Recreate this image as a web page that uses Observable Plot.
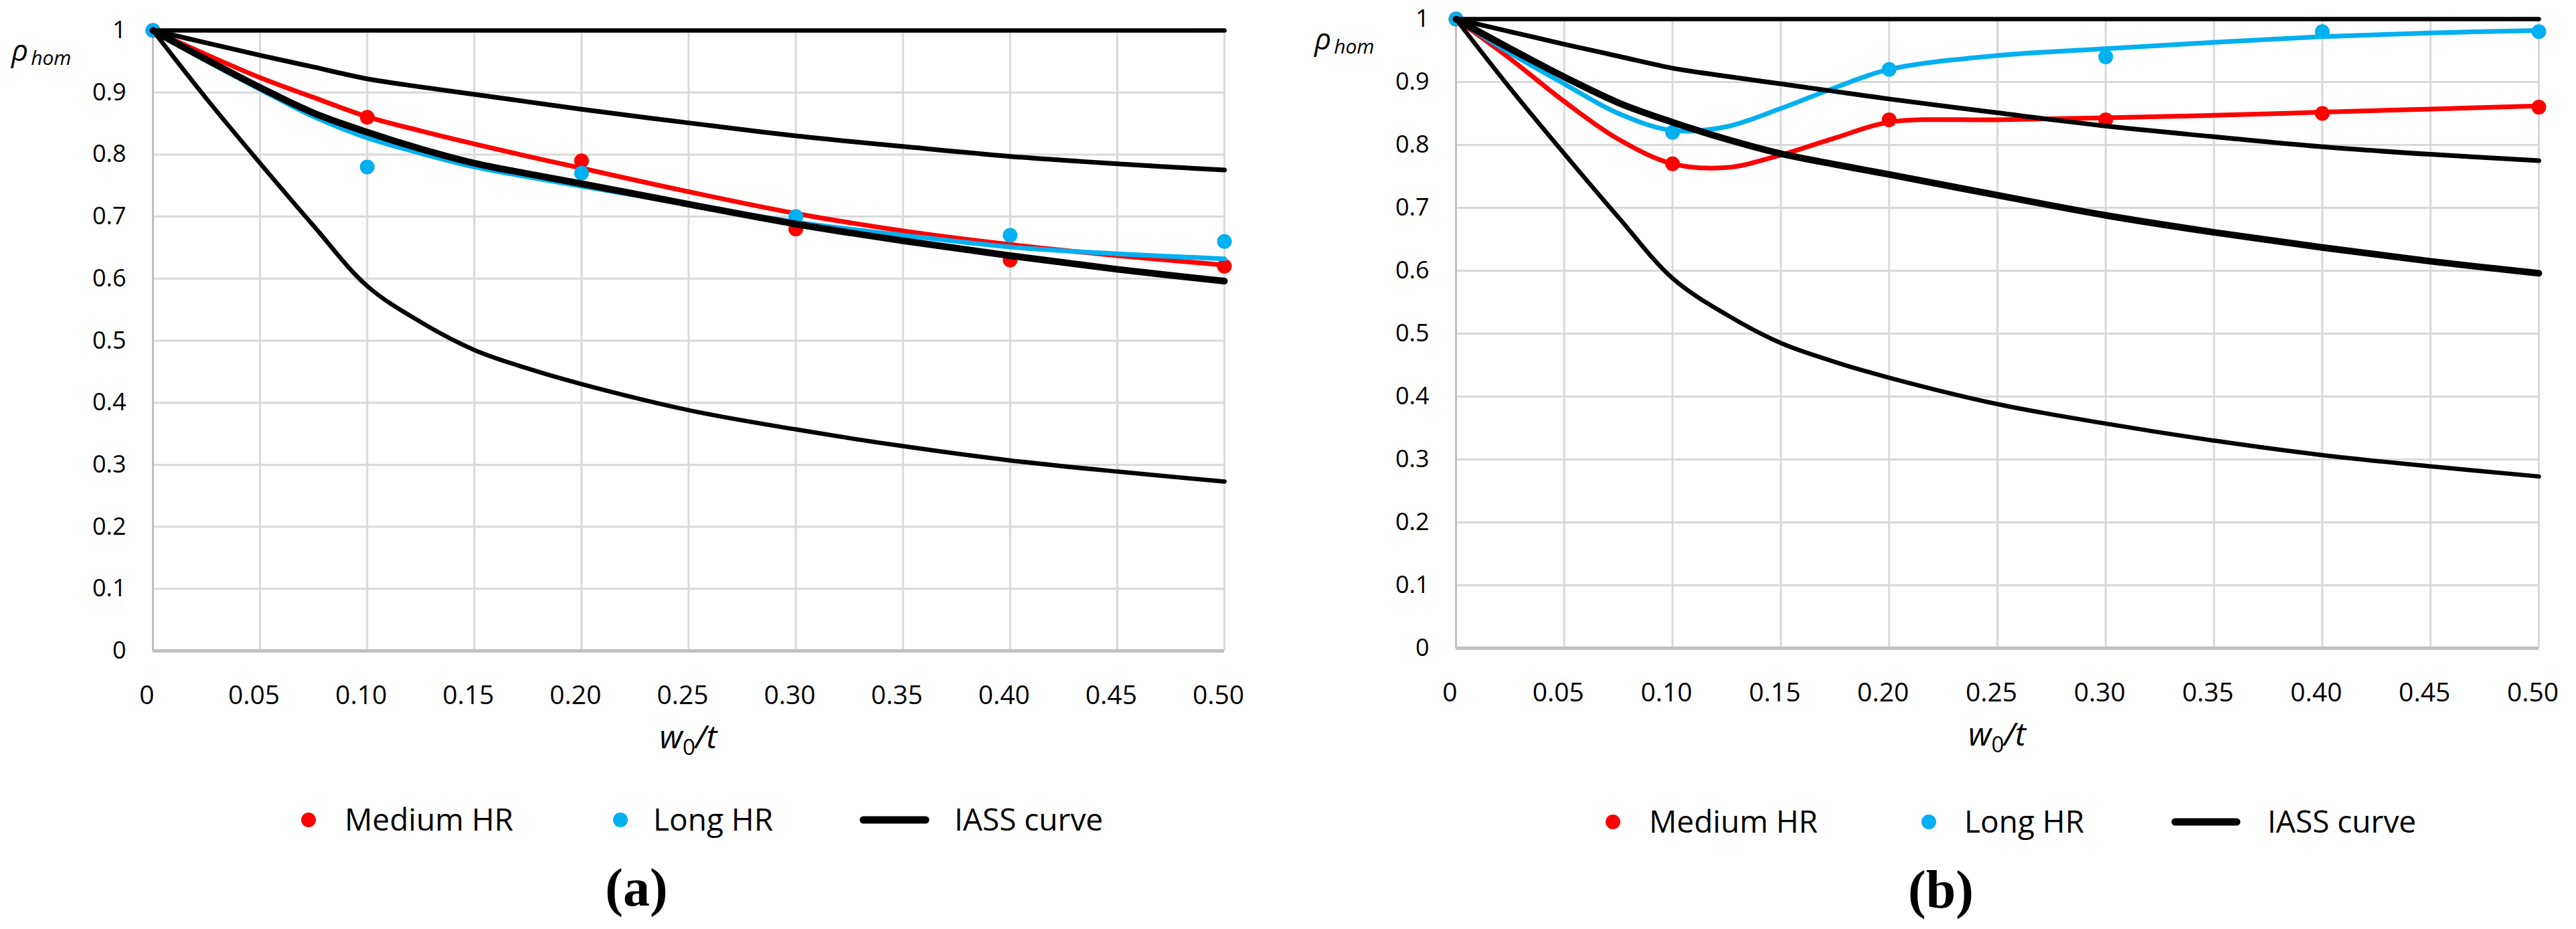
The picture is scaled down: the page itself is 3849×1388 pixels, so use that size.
<!DOCTYPE html>
<html><head><meta charset="utf-8">
<script src="https://cdn.jsdelivr.net/npm/d3@7"></script>
<script src="https://cdn.jsdelivr.net/npm/@observablehq/plot@0.6"></script>
<style>
html,body{margin:0;padding:0;background:#fff;}
#root{position:relative;width:3849px;height:1388px;overflow:hidden;background:#fff;}
#root svg{position:absolute;top:0;}
</style></head><body><div id="root"></div>
<script>
// ---- tick values ----
const xTicks = [0, 0.05, 0.1, 0.15, 0.2, 0.25, 0.3, 0.35, 0.4, 0.45, 0.5];
const yTicks = [0, 0.1, 0.2, 0.3, 0.4, 0.5, 0.6, 0.7, 0.8, 0.9, 1];

// ---- IASS reference curves (same in both panels) ----
const curveX      = [0, 0.025, 0.05, 0.075, 0.1, 0.125, 0.15, 0.175, 0.2, 0.25, 0.3, 0.35, 0.4, 0.45, 0.5];
const iassFlatX   = [0, 0.5];
const iassFlat    = [1, 1];
const iassUpper   = [1, 0.980, 0.960, 0.941, 0.922, 0.909, 0.897, 0.885, 0.873, 0.851, 0.830, 0.813, 0.797, 0.785, 0.775];
const iassMiddle  = [1, 0.953, 0.908, 0.867, 0.836, 0.809, 0.786, 0.769, 0.753, 0.720, 0.688, 0.661, 0.637, 0.615, 0.596];
const iassLower   = [1, 0.890, 0.786, 0.685, 0.588, 0.530, 0.485, 0.455, 0.430, 0.388, 0.357, 0.330, 0.307, 0.289, 0.273];

// ---- measured points ----
const pointX  = [0, 0.1, 0.2, 0.3, 0.4, 0.5];
const mediumA = [1, 0.86, 0.79, 0.68, 0.63, 0.62];
const longA   = [1, 0.78, 0.77, 0.70, 0.67, 0.66];
const mediumB = [1, 0.77, 0.84, 0.84, 0.85, 0.86];
const longB   = [1, 0.82, 0.92, 0.94, 0.98, 0.98];

// ---- fitted / smoothed curves ----
const mediumFitA = [1, 0.961, 0.924, 0.892, 0.861, 0.838, 0.817, 0.797, 0.778, 0.740, 0.705, 0.677, 0.655, 0.637, 0.622];
const longFitA   = [1, 0.951, 0.905, 0.861, 0.827, 0.802, 0.780, 0.764, 0.749, 0.720, 0.691, 0.670, 0.651, 0.640, 0.632];
const mediumFitB = [1, 0.937, 0.869, 0.809, 0.770, 0.764, 0.784, 0.811, 0.836, 0.840, 0.843, 0.847, 0.852, 0.857, 0.862];
const longFitB   = [1, 0.946, 0.897, 0.850, 0.823, 0.829, 0.858, 0.891, 0.920, 0.942, 0.953, 0.963, 0.972, 0.978, 0.982];

const legendLabels = ["Medium HR", "Long HR", "IASS curve"];
const panelLabels = ["(a)", "(b)"];

const RED = "#ff0000", BLUE = "#00b0f0", BLACK = "#000000";
const FONT = "'Open Sans', 'DejaVu Sans', sans-serif";

const toRows = (xs, ys) => xs.map((x, i) => ({x, y: ys[i]}));

function panel({left, width, mL, mR, mT, plotBottom, medium, long, mediumFit, longFit, lg, caption}) {
  const H = 1388;
  const chart = Plot.plot({
    width, height: H,
    marginLeft: mL, marginRight: mR, marginTop: mT, marginBottom: H - plotBottom,
    x: {domain: [0, 0.5]},
    y: {domain: [0, 1]},
    style: {fontFamily: FONT, fontSize: "36px", color: "#000", background: "transparent", overflow: "visible"},
    marks: [
      Plot.gridX(xTicks, {stroke: "#d9d9d9", strokeOpacity: 1, strokeWidth: 3}),
      Plot.gridY(yTicks, {stroke: "#d9d9d9", strokeOpacity: 1, strokeWidth: 3}),
      Plot.ruleX([0], {stroke: "#bfbfbf", strokeWidth: 3}),
      Plot.ruleY([0], {stroke: "#bfbfbf", strokeWidth: 5}),
      Plot.axisX(xTicks, {tickSize: 0, tickPadding: 52, label: null, fontSize: 39, dx: -9,
        tickFormat: d => d === 0 ? "0" : d.toFixed(2)}),
      Plot.axisY(yTicks, {tickSize: 0, tickPadding: 40, label: null, fontSize: 36,
        tickFormat: d => (d === 0 || d === 1) ? String(d) : d.toFixed(1)}),
      Plot.line(toRows(curveX, mediumFit), {x: "x", y: "y", stroke: RED, strokeWidth: 7, curve: "catmull-rom"}),
      Plot.dot(toRows(pointX, medium), {x: "x", y: "y", r: 11, fill: RED}),
      Plot.line(toRows(curveX, longFit), {x: "x", y: "y", stroke: BLUE, strokeWidth: 7, curve: "catmull-rom"}),
      Plot.dot(toRows(pointX, long), {x: "x", y: "y", r: 11, fill: BLUE}),
      Plot.line(toRows(iassFlatX, iassFlat), {x: "x", y: "y", stroke: BLACK, strokeWidth: 6.5}),
      Plot.line(toRows(curveX, iassUpper), {x: "x", y: "y", stroke: BLACK, strokeWidth: 7, curve: "catmull-rom"}),
      Plot.line(toRows(curveX, iassMiddle), {x: "x", y: "y", stroke: BLACK, strokeWidth: 10, curve: "catmull-rom"}),
      Plot.line(toRows(curveX, iassLower), {x: "x", y: "y", stroke: BLACK, strokeWidth: 6.5, curve: "catmull-rom"})
    ]
  });
  chart.style.left = left + "px";
  const svg = d3.select(chart);
  const plotCenter = mL + (width - mL - mR) / 2;

  // y-axis title  ρ_hom
  const yl = svg.append("text").attr("x", mL - 211).attr("y", mT + 46).attr("text-anchor", "start")
    .attr("font-family", FONT).attr("font-style", "italic").attr("font-size", 44).attr("fill", "#000");
  yl.append("tspan").text("ρ");
  yl.append("tspan").attr("font-size", 30).attr("dy", 6).attr("dx", 4).text("hom");

  // x-axis title  w_0/t
  const xl = svg.append("text").attr("x", plotCenter).attr("y", plotBottom + 146)
    .attr("text-anchor", "middle").attr("font-family", FONT).attr("font-size", 48).attr("fill", "#000");
  xl.append("tspan").attr("font-style", "italic").text("w");
  xl.append("tspan").attr("font-size", 33).attr("dy", 10).text("0");
  xl.append("tspan").attr("font-style", "italic").attr("dy", -10).text("/t");

  // legend
  const ly = lg.y;
  svg.append("circle").attr("cx", lg.redDot).attr("cy", ly).attr("r", 11).attr("fill", RED);
  svg.append("circle").attr("cx", lg.blueDot).attr("cy", ly).attr("r", 11).attr("fill", BLUE);
  svg.append("line").attr("x1", lg.line0).attr("x2", lg.line1).attr("y1", ly).attr("y2", ly)
    .attr("stroke", BLACK).attr("stroke-width", 11).attr("stroke-linecap", "round");
  [[lg.redText, legendLabels[0]], [lg.blueText, legendLabels[1]], [lg.lineText, legendLabels[2]]].forEach(([x, t]) => {
    svg.append("text").attr("x", x).attr("y", ly + 16).attr("text-anchor", "start").attr("font-family", FONT)
      .attr("font-size", 46).attr("fill", "#000").text(t);
  });

  // panel caption
  svg.append("text").attr("x", caption.x).attr("y", caption.y).attr("text-anchor", "middle")
    .attr("font-family", "'Liberation Serif', 'DejaVu Serif', serif").attr("font-weight", "bold")
    .attr("font-size", 80).attr("fill", "#000").text(caption.text);

  document.getElementById("root").appendChild(chart);
}

panel({
  left: 0, width: 1925, mL: 228, mR: 96, mT: 45, plotBottom: 972,
  medium: mediumA, long: longA, mediumFit: mediumFitA, longFit: longFitA,
  lg: {y: 1225, redDot: 461, redText: 515, blueDot: 927, blueText: 976, line0: 1290, line1: 1383, lineText: 1426},
  caption: {x: 951, y: 1353, text: panelLabels[0]}
});
panel({
  left: 1925, width: 1924, mL: 250, mR: 56, mT: 28, plotBottom: 968,
  medium: mediumB, long: longB, mediumFit: mediumFitB, longFit: longFitB,
  lg: {y: 1228, redDot: 485, redText: 539, blueDot: 957, blueText: 1010, line0: 1325, line1: 1417, lineText: 1463},
  caption: {x: 975, y: 1356, text: panelLabels[1]}
});
</script></body></html>
